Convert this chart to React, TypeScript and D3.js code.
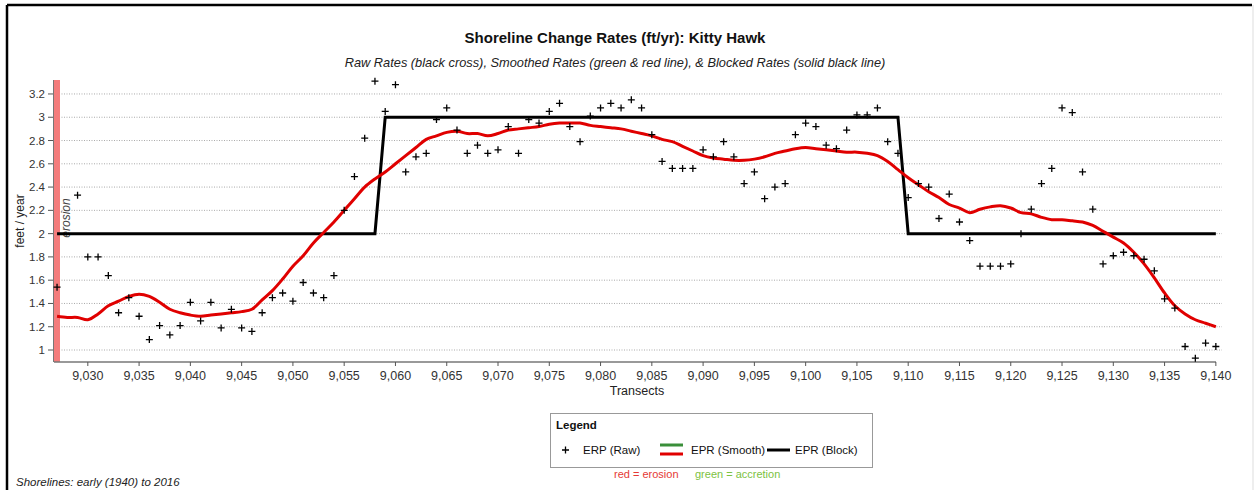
import * as d3 from "d3";

// raw rates (ERP) per transect
const rawTransects = [
  9027, 9029, 9030, 9031, 9032, 9033, 9034, 9035, 9036, 9037, 9038, 9039, 9040, 9041, 9042, 9043, 9044, 9045, 9046,
  9047, 9048, 9049, 9050, 9051, 9052, 9053, 9054, 9055, 9056, 9057, 9058, 9059, 9060, 9061, 9062, 9063, 9064, 9065,
  9066, 9067, 9068, 9069, 9070, 9071, 9072, 9073, 9074, 9075, 9076, 9077, 9078, 9079, 9080, 9081, 9082, 9083, 9084,
  9085, 9086, 9087, 9088, 9089, 9090, 9091, 9092, 9093, 9094, 9095, 9096, 9097, 9098, 9099, 9100, 9101, 9102, 9103,
  9104, 9105, 9106, 9107, 9108, 9109, 9110, 9111, 9112, 9113, 9114, 9115, 9116, 9117, 9118, 9119, 9120, 9121, 9122,
  9123, 9124, 9125, 9126, 9127, 9128, 9129, 9130, 9131, 9132, 9133, 9134, 9135, 9136, 9137, 9138, 9139, 9140,
];
const rawRates = [
  1.54, 2.33, 1.8, 1.8, 1.64, 1.32, 1.45, 1.29, 1.09, 1.21, 1.13, 1.21, 1.41, 1.25, 1.41, 1.19, 1.35, 1.19, 1.16,
  1.32, 1.45, 1.49, 1.42, 1.58, 1.49, 1.45, 1.64, 2.2, 2.49, 2.82, 3.31, 3.05, 3.28, 2.53, 2.66, 2.69, 2.98, 3.08,
  2.89, 2.69, 2.76, 2.69, 2.72, 2.92, 2.69, 2.98, 2.95, 3.05, 3.12, 2.92, 2.79, 3.01, 3.08, 3.12, 3.08, 3.15, 3.08,
  2.85, 2.62, 2.56, 2.56, 2.56, 2.72, 2.66, 2.79, 2.66, 2.43, 2.53, 2.3, 2.4, 2.43, 2.85, 2.95, 2.92, 2.76, 2.73,
  2.89, 3.02, 3.02, 3.08, 2.79, 2.69, 2.31, 2.43, 2.4, 2.13, 2.34, 2.1, 1.94, 1.72, 1.72, 1.72, 1.74, 2.0, 2.21,
  2.43, 2.56, 3.08, 3.04, 2.53, 2.21, 1.74, 1.81, 1.84, 1.81, 1.78, 1.68, 1.44, 1.36, 1.03, 0.93, 1.06, 1.03,
];

// smoothed rates (EPR), one per transect 9027..9140
const smoothStart = 9027;
const smoothRates = [
  1.29, 1.28, 1.28, 1.26, 1.31, 1.38, 1.42, 1.46, 1.48, 1.46, 1.41, 1.35, 1.32, 1.3, 1.29, 1.3, 1.31, 1.32, 1.33,
  1.35, 1.43, 1.51, 1.61, 1.72, 1.81, 1.92, 2.01, 2.1, 2.2, 2.3, 2.4, 2.47, 2.53, 2.6, 2.67, 2.74, 2.81, 2.84, 2.87,
  2.88, 2.86, 2.86, 2.84, 2.86, 2.89, 2.9, 2.91, 2.92, 2.94, 2.95, 2.95, 2.95, 2.93, 2.92, 2.91, 2.9, 2.88, 2.86,
  2.84, 2.81, 2.79, 2.75, 2.71, 2.67, 2.65, 2.64, 2.63, 2.63, 2.64, 2.66, 2.69, 2.71, 2.73, 2.74, 2.73, 2.72, 2.71,
  2.7, 2.7, 2.69, 2.67, 2.62, 2.55, 2.48, 2.42, 2.36, 2.31, 2.25, 2.22, 2.18, 2.21, 2.23, 2.24, 2.22, 2.18, 2.17,
  2.14, 2.12, 2.12, 2.11, 2.1, 2.07, 2.02, 1.97, 1.92, 1.84, 1.74, 1.62, 1.49, 1.38, 1.31, 1.26, 1.23, 1.2,
];

// blocked rates (step line)
const blockTransects = [9027, 9058, 9059, 9109, 9110, 9140];
const blockRates = [2, 2, 3, 3, 2, 2];

const yTicks = [1, 1.2, 1.4, 1.6, 1.8, 2, 2.2, 2.4, 2.6, 2.8, 3, 3.2];
const xTicks = d3.range(9030, 9141, 5);

const FONT = "Arial, 'Liberation Sans', sans-serif";
const W = 1255;
const H = 490;

export default function App() {
  const x = d3.scaleLinear().domain([9026.8, 9140.6]).range([55, 1222]);
  const y = d3.scaleLinear().domain([0.897, 3.32]).range([362, 80]);

  const smoothPts: [number, number][] = smoothRates.map((v, i) => [smoothStart + i, v]);
  const smoothLine = d3
    .line<[number, number]>()
    .x((d) => x(d[0]))
    .y((d) => y(d[1]))
    .curve(d3.curveCatmullRom.alpha(0.5));
  const blockLine = d3
    .line<number>()
    .x((d) => x(d))
    .y((_, i) => y(blockRates[i]));

  const fmt = d3.format(",");

  return (
    <div style={{ position: "fixed", left: 0, top: 0 }}>
      <svg width={W} height={H} style={{ display: "block", background: "#fff" }} fontFamily={FONT}>
        {/* frame */}
        <line x1={7} y1={5} x2={1252} y2={5} stroke="#000" strokeWidth={2.5} />
        <line x1={7} y1={5} x2={7} y2={H} stroke="#000" strokeWidth={2.5} />
        <line x1={1253} y1={5} x2={1253} y2={H} stroke="#ddd" strokeWidth={1} />

        <text x={615} y={43} textAnchor="middle" fontWeight="bold" fontSize={15} fill="#111">
          Shoreline Change Rates (ft/yr): Kitty Hawk
        </text>
        <text x={615} y={67} textAnchor="middle" fontStyle="italic" fontSize={12.8} fill="#222">
          Raw Rates (black cross), Smoothed Rates (green &amp; red line), &amp; Blocked Rates (solid black line)
        </text>

        {/* grid */}
        {yTicks.map((t) => (
          <line key={"g" + t} x1={59} x2={1222} y1={y(t)} y2={y(t)} stroke="#aaa" strokeWidth={1} strokeDasharray="1,1.5" />
        ))}

        {/* erosion band */}
        <rect x={54} y={80} width={6} height={282} fill="#f47c7c" />
        <line x1={53.5} x2={53.5} y1={80} y2={362} stroke="#777" strokeWidth={1} />

        {/* y axis */}
        {yTicks.map((t) => (
          <g key={"y" + t}>
            <line x1={48} x2={53} y1={y(t)} y2={y(t)} stroke="#555" strokeWidth={1} />
            <text x={45} y={y(t) + 4} textAnchor="end" fontSize={11.5} fill="#333">
              {String(t)}
            </text>
          </g>
        ))}
        <text transform={`translate(24,221) rotate(-90)`} textAnchor="middle" fontSize={12} fill="#222">
          feet / year
        </text>
        <text transform={`translate(70,218) rotate(-90)`} textAnchor="middle" fontSize={12} fontStyle="italic" fill="#444">
          erosion
        </text>

        {/* x axis */}
        <line x1={54} x2={1216} y1={362} y2={362} stroke="#777" strokeWidth={1.5} />
        {xTicks.map((t) => (
          <g key={"x" + t}>
            <line x1={x(t)} x2={x(t)} y1={362} y2={366} stroke="#555" strokeWidth={1} />
            <text x={x(t)} y={380} textAnchor="middle" fontSize={12.5} fill="#333">
              {fmt(t)}
            </text>
          </g>
        ))}
        <text x={637} y={395} textAnchor="middle" fontSize={12.5} fill="#222">
          Transects
        </text>

        {/* block line */}
        <path d={blockLine(blockTransects) || ""} fill="none" stroke="#000" strokeWidth={3} />

        {/* smoothed line */}
        <path d={smoothLine(smoothPts) || ""} fill="none" stroke="#e00000" strokeWidth={3} strokeLinejoin="round" />

        {/* raw points */}
        {rawTransects.map((t, i) => {
          const cx = x(t);
          const cy = y(rawRates[i]);
          return (
            <path key={"p" + t} d={`M${cx - 3.5},${cy}H${cx + 3.5}M${cx},${cy - 3.5}V${cy + 3.5}`} stroke="#000" strokeWidth={1.3} />
          );
        })}

        {/* legend */}
        <rect x={550.5} y={413.5} width={322} height={54} fill="#fff" stroke="#999" strokeWidth={1} />
        <text x={556} y={429} fontSize={11.5} fontWeight="bold" fill="#111">
          Legend
        </text>
        <path d="M562,450H569M565.5,446.5V453.5" stroke="#000" strokeWidth={1.3} />
        <text x={583} y={454} fontSize={11.5} fill="#111">
          ERP (Raw)
        </text>
        <line x1={660} x2={683} y1={445} y2={445} stroke="#3a8f3a" strokeWidth={3} />
        <line x1={660} x2={683} y1={454} y2={454} stroke="#e00000" strokeWidth={3} />
        <text x={691} y={454} fontSize={11.5} fill="#111">
          EPR (Smooth)
        </text>
        <line x1={767} x2={790} y1={450} y2={450} stroke="#000" strokeWidth={3} />
        <text x={795} y={454} fontSize={11.5} fill="#111">
          EPR (Block)
        </text>
        <text x={614} y={478} fontSize={11} fill="#e53935">
          red = erosion
        </text>
        <text x={695} y={478} fontSize={11} fill="#7cc242">
          green = accretion
        </text>

        <text x={16} y={486} fontSize={11.5} fontStyle="italic" fill="#222">
          Shorelines: early (1940) to 2016
        </text>
      </svg>
    </div>
  );
}
